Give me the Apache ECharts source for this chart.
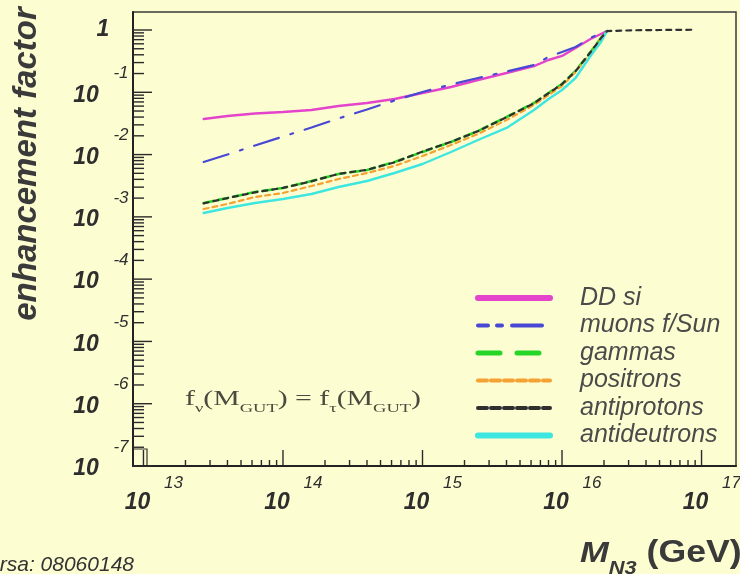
<!DOCTYPE html>
<html>
<head>
<meta charset="utf-8">
<script src="https://cdn.jsdelivr.net/npm/echarts@6/dist/echarts.min.js"></script>
<style>
  html, body { margin: 0; padding: 0; background: #fdfdd2; }
  #chart { width: 740px; height: 574px; }
</style>
</head>
<body>
<div id="chart"></div>
<script>
// Heavy neutrino mass M_N3 (GeV) at which each enhancement factor is sampled
const massGeV = [2.7e13, 4.0e13, 6.3e13, 1.0e14, 1.6e14, 2.5e14, 4.0e14, 6.3e14, 1.0e15, 1.6e15,
                 2.5e15, 4.0e15, 6.3e15, 8.0e15, 1.0e16, 1.25e16, 1.6e16, 1.9e16, 2.1e16,
                 3.2e16, 5.0e16, 8.5e16];

const ddSi        = [0.0373, 0.0416, 0.0457, 0.0483, 0.0520, 0.0603, 0.0673, 0.0780, 0.0974, 0.1216,
                     0.1575, 0.204, 0.264, 0.330, 0.383, 0.514, 0.717, 0.863, 0.96, null, null, null];
const muonsSun    = [0.0076, 0.0100, 0.0140, 0.0195, 0.0272, 0.0380, 0.0530, 0.0738, 0.101, 0.1334,
                     0.1695, 0.2157, 0.274, 0.369, 0.443, 0.533, 0.744, 0.895, 0.96, null, null, null];
const gammas      = [1.671e-3, 2.009e-3, 2.506e-3, 2.905e-3, 3.765e-3, 4.88e-3, 5.65e-3, 7.60e-3, 0.0110, 0.01592,
                     0.02392, 0.0401, 0.0673, 0.0974, 0.1358, 0.2197, 0.443, 0.74, 0.96, null, null, null];
const positrons   = [1.337e-3, 1.610e-3, 2.085e-3, 2.417e-3, 3.13e-3, 4.05e-3, 5.05e-3, 6.56e-3, 9.48e-3, 0.01425,
                     0.0214, 0.0359, 0.0625, 0.0905, 0.1262, 0.2117, 0.4275, 0.72, 0.96, null, null, null];
const antiprotons = [1.65e-3, 2.0e-3, 2.48e-3, 2.92e-3, 3.72e-3, 4.9e-3, 5.7e-3, 7.5e-3, 0.0112, 0.0160,
                     0.0238, 0.0398, 0.0668, 0.0965, 0.1350, 0.2180, 0.440, 0.74, 0.96, 0.99, 1.0, 1.01];
const antideutrons= [1.153e-3, 1.387e-3, 1.671e-3, 1.937e-3, 2.33e-3, 3.015e-3, 3.765e-3, 5.06e-3, 7.06e-3, 0.0110,
                     0.01714, 0.02673, 0.0520, 0.0780, 0.1089, 0.1695, 0.382, 0.64, 0.96, null, null, null];

const seriesNames = ['DD si', 'muons f/Sun', 'gammas', 'positrons', 'antiprotons', 'antideutrons'];

// Axis decades and log minor-tick mantissas
const yDecadeExponents = [0, -1, -2, -3, -4, -5, -6, -7];
const xDecadeExponents = [13, 14, 15, 16, 17];
const minorMantissas = [2, 3, 4, 5, 6, 7, 8, 9];

const X_MIN = Math.pow(10, 12.925), X_MAX = Math.pow(10, 17.247);
const Y_MIN = 1e-7, Y_MAX = Math.pow(10, 0.289);

const SANS = '"Liberation Sans", Arial, Helvetica, sans-serif';
const SERIF = '"Liberation Serif", "Times New Roman", serif';
const INK = '#2e2e2e';

function pairs(values) {
  const out = [];
  massGeV.forEach((m, i) => { if (values[i] != null) out.push([m, values[i]]); });
  return out;
}

// Tick tables: [x, y, isMajor, exponent]
const yTickData = [];
yDecadeExponents.forEach(e => yTickData.push([X_MIN, Math.pow(10, e), 1, e]));
yDecadeExponents.filter(e => e < 0).forEach(e => minorMantissas.forEach(m => yTickData.push([X_MIN, m * Math.pow(10, e), 0, e])));
const xTickData = [];
xDecadeExponents.forEach(e => xTickData.push([Math.pow(10, e), Y_MIN, 1, e]));
xDecadeExponents.filter(e => e < 17).forEach(e => minorMantissas.forEach(m => xTickData.push([m * Math.pow(10, e), Y_MIN, 0, e])));

function label(x, y, text, font, align) {
  return {
    type: 'text', x: x, y: y,
    style: { text: text, font: font, fill: INK, textFill: INK,
             align: align || 'center', textAlign: align || 'center',
             verticalAlign: 'middle', textVerticalAlign: 'middle' }
  };
}
const BIG = 'italic bold 23px ' + SANS;
const SUP = 'italic 17px ' + SANS;

function renderYTick(params, api) {
  const p = api.coord([api.value(0), api.value(1)]);
  const major = api.value(2) === 1;
  const e = api.value(3);
  const children = [{
    type: 'line',
    shape: { x1: p[0], y1: p[1], x2: p[0] + (major ? 19 : 11), y2: p[1] },
    style: { stroke: '#2a2a2a', lineWidth: 1.4 }
  }];
  if (major) {
    if (e === 0) {
      children.push(label(p[0] - 30, p[1], '1', BIG));
    } else {
      children.push(label(p[0] - 47, p[1] + 3, '10', BIG));
      children.push(label(p[0] - 12, p[1] - 19, String(e), SUP));
    }
  }
  return { type: 'group', children: children };
}

function renderXTick(params, api) {
  const p = api.coord([api.value(0), api.value(1)]);
  const major = api.value(2) === 1;
  const e = api.value(3);
  const children = [{
    type: 'line',
    shape: { x1: p[0], y1: p[1], x2: p[0], y2: p[1] - (major ? 16 : 6) },
    style: { stroke: '#2a2a2a', lineWidth: 1.4 }
  }];
  if (major) {
    children.push(label(p[0] - 6, p[1] + 37, '10', BIG));
    children.push(label(p[0] + 30, p[1] + 17, String(e), SUP));
  }
  return { type: 'group', children: children };
}

const styles = {
  'DD si':        { color: '#e444cc', width: 2.4, type: 'solid' },
  'muons f/Sun':  { color: '#4848d4', width: 2.2, type: [26, 12, 3, 12] },
  'gammas':       { color: '#26d626', width: 2.6, type: [10, 5] },
  'positrons':    { color: '#f4a232', width: 2.2, type: [5, 4] },
  'antiprotons':  { color: '#303030', width: 2.2, type: [5, 5] },
  'antideutrons': { color: '#3ee6e0', width: 2.4, type: 'solid' }
};
const legendIcons = {
  'DD si':        { width: 6, type: 'solid' },
  'muons f/Sun':  { width: 4, type: [10, 9, 5, 10, 30, 10] },
  'gammas':       { width: 5, type: [22, 17] },
  'positrons':    { width: 4, type: [9, 4] },
  'antiprotons':  { width: 4, type: [9, 4] },
  'antideutrons': { width: 6, type: 'solid' }
};
const seriesValues = [ddSi, muonsSun, gammas, positrons, antiprotons, antideutrons];

const lineSeries = seriesNames.map((name, i) => ({
  name: name,
  type: 'line',
  data: pairs(seriesValues[i]),
  symbol: 'none',
  smooth: false,
  z: name === 'antiprotons' ? 4 : 3,
  itemStyle: { color: styles[name].color },
  lineStyle: { color: styles[name].color, width: styles[name].width, type: styles[name].type, cap: 'round' },
  emphasis: { disabled: true }
}));

const chart = echarts.init(document.getElementById('chart'), null, { renderer: 'canvas' });
chart.setOption({
  backgroundColor: '#fdfdd2',
  animation: false,
  grid: { left: 133, right: 4, top: 12, bottom: 108, show: true,
          borderColor: '#3a3a3a', borderWidth: 1.5, backgroundColor: 'transparent' },
  xAxis: {
    type: 'log', logBase: 10, min: X_MIN, max: X_MAX,
    axisLine: { show: true, lineStyle: { color: '#222', width: 2 } },
    axisTick: { show: false }, axisLabel: { show: false },
    splitLine: { show: false }, minorTick: { show: false }
  },
  yAxis: {
    type: 'log', logBase: 10, min: Y_MIN, max: Y_MAX,
    axisLine: { show: true, lineStyle: { color: '#222', width: 2 } },
    axisTick: { show: false }, axisLabel: { show: false },
    splitLine: { show: false }, minorTick: { show: false }
  },
  legend: {
    orient: 'vertical', left: 475, top: 285, padding: 0,
    itemWidth: 72, itemHeight: 14, itemGap: 1.5,
    selectedMode: false,
    textStyle: { fontFamily: SANS, fontStyle: 'italic', fontSize: 25, color: '#4a4a4a',
                 lineHeight: 26, padding: [0, 0, 0, 25] },
    data: seriesNames.map(name => ({
      name: name,
      itemStyle: { color: 'rgba(0,0,0,0)', borderWidth: 0, opacity: 0 },
      lineStyle: { color: styles[name].color, width: legendIcons[name].width, type: legendIcons[name].type }
    }))
  },
  graphic: [
    {
      // small frame at the lower-left corner of the axes
      type: 'rect', shape: { x: 133, y: 449, width: 14, height: 17 },
      style: { fill: 'none', stroke: '#333', lineWidth: 1.2 }, silent: true
    },
    {
      type: 'text', x: 27, y: 164, rotation: Math.PI / 2,
      style: { text: 'enhancement factor', font: 'italic bold 33px ' + SANS, fill: '#3a3a3a',
               align: 'center', verticalAlign: 'middle' }
    },
    {
      type: 'text', x: 580, y: 558, scaleX: 1.15,
      style: {
        text: '{m|M}{s|N3}{g| (GeV)}',
        verticalAlign: 'middle',
        rich: {
          m: { font: 'italic bold 30px ' + SANS, fill: '#3a3a3a', verticalAlign: 'bottom', padding: [0, 0, 9, 0] },
          s: { font: 'italic bold 19px ' + SANS, fill: '#3a3a3a', verticalAlign: 'bottom' },
          g: { font: 'bold 31px ' + SANS, fill: '#3a3a3a', verticalAlign: 'bottom', padding: [0, 0, 9, 0] }
        }
      }
    },
    {
      type: 'text', x: 134, y: 565,
      style: { text: 'rsa: 08060148', font: 'italic 21px ' + SANS, fill: '#333',
               align: 'right', verticalAlign: 'middle' }
    },
    {
      type: 'text', x: 185, y: 402, scaleX: 1.42,
      style: {
        text: '{n|f}{s|ν}{n|(M}{s|GUT}{n|) = f}{s|τ}{n|(M}{s|GUT}{n|)}',
        verticalAlign: 'middle',
        rich: {
          n: { font: '21px ' + SERIF, fill: '#4a4a3e', verticalAlign: 'bottom', padding: [0, 0, 6, 0] },
          s: { font: '13px ' + SERIF, fill: '#4a4a3e', verticalAlign: 'bottom' }
        }
      }
    }
  ],
  series: lineSeries.concat([
    {
      type: 'custom', name: 'yTicks', coordinateSystem: 'cartesian2d',
      data: yTickData, renderItem: renderYTick, silent: true, clip: false, z: 5
    },
    {
      type: 'custom', name: 'xTicks', coordinateSystem: 'cartesian2d',
      data: xTickData, renderItem: renderXTick, silent: true, clip: false, z: 5
    }
  ])
});
</script>
</body>
</html>
